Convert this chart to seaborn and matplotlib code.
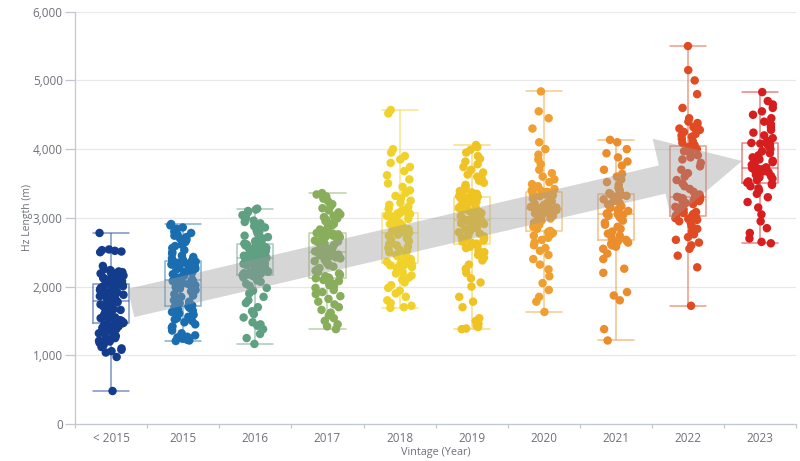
import numpy as np
import pandas as pd
import matplotlib
matplotlib.use("Agg")
import matplotlib.pyplot as plt
from matplotlib.patches import Polygon
from matplotlib.ticker import FuncFormatter, FixedLocator
import seaborn as sns

# ---- data: horizontal well length (m) by vintage ----
categories = ["< 2015", "2015", "2016", "2017", "2018", "2019", "2020", "2021", "2022", "2023"]

vals_pre2015 = [
    480, 975, 1040, 1060, 1080, 1100, 1120, 1150, 1180, 1200, 1210, 1230, 1250, 1260, 1280,
    1300, 1320, 1340, 1350, 1360, 1370, 1380, 1390, 1400, 1410, 1420, 1430, 1440, 1455, 1465,
    1475, 1490, 1500, 1510, 1525, 1540, 1550, 1560, 1575, 1590, 1600, 1610, 1620, 1635, 1650,
    1660, 1670, 1680, 1690, 1700, 1710, 1720, 1730, 1740, 1750, 1760, 1770, 1775, 1785, 1790,
    1800, 1810, 1820, 1830, 1840, 1850, 1860, 1870, 1880, 1890, 1900, 1910, 1920, 1930, 1940,
    1950, 1960, 1965, 1970, 1980, 1985, 1990, 2000, 2005, 2010, 2015, 2020, 2025, 2030, 2035,
    2040, 2045, 2050, 2060, 2070, 2080, 2090, 2100, 2110, 2120, 2130, 2140, 2150, 2160, 2170,
    2180, 2190, 2200, 2210, 2220, 2230, 2240, 2250, 2300, 2500, 2510, 2520, 2530, 2540, 2780,
]
vals_2015 = [
    1208, 1215, 1225, 1240, 1260, 1270, 1290, 1320, 1360, 1400, 1420, 1450, 1480, 1500, 1520,
    1540, 1560, 1590, 1610, 1630, 1650, 1670, 1690, 1700, 1712,
    1725, 1740, 1760, 1780, 1800, 1820, 1850, 1870, 1890, 1910, 1930, 1950, 1970, 1990, 2000,
    2010, 2020, 2035, 2045, 2055, 2065, 2075, 2080, 2088, 2094,
    2100, 2110, 2125, 2140, 2160, 2180, 2200, 2215, 2230, 2245, 2260, 2270, 2280, 2290, 2300,
    2310, 2320, 2330, 2340, 2345, 2350, 2355, 2362, 2368, 2374,
    2382, 2395, 2410, 2430, 2450, 2480, 2500, 2530, 2560, 2590, 2610, 2630, 2650, 2680, 2700,
    2720, 2740, 2760, 2780, 2800, 2820, 2840, 2860, 2890, 2910,
]
vals_2016 = [
    1165, 1250, 1310, 1380, 1430, 1450, 1480, 1550, 1600, 1640, 1700, 1760, 1800, 1850, 1900,
    1940, 1980, 2010, 2040, 2070, 2090, 2110, 2130, 2150, 2165,
    2175, 2185, 2195, 2205, 2215, 2225, 2240, 2255, 2270, 2285, 2300, 2310, 2320, 2330, 2340,
    2350, 2360, 2370, 2380, 2390, 2400, 2405, 2410, 2415, 2419,
    2425, 2432, 2440, 2448, 2455, 2462, 2470, 2478, 2486, 2495, 2505, 2515, 2525, 2535, 2545,
    2555, 2565, 2575, 2585, 2592, 2598, 2604, 2610, 2614, 2618,
    2625, 2640, 2660, 2680, 2700, 2720, 2740, 2760, 2780, 2800, 2820, 2840, 2860, 2880, 2900,
    2920, 2940, 2960, 2980, 3000, 3040, 3080, 3100, 3120, 3134,
]
vals_2017 = [
    1380, 1420, 1450, 1500, 1540, 1580, 1620, 1660, 1700, 1740, 1780, 1820, 1860, 1890, 1920,
    1950, 1980, 2000, 2020, 2040, 2060, 2080, 2095, 2110, 2120,
    2130, 2150, 2170, 2190, 2210, 2230, 2250, 2270, 2290, 2310, 2330, 2350, 2370, 2390, 2410,
    2425, 2440, 2455, 2465, 2475, 2485, 2492, 2498, 2503, 2507,
    2512, 2520, 2530, 2540, 2550, 2565, 2580, 2595, 2610, 2625, 2640, 2655, 2670, 2685, 2700,
    2710, 2720, 2730, 2740, 2750, 2760, 2768, 2774, 2779, 2783,
    2790, 2800, 2815, 2830, 2850, 2870, 2890, 2910, 2930, 2950, 2970, 2990, 3010, 3030, 3050,
    3080, 3110, 3140, 3170, 3200, 3240, 3280, 3310, 3340, 3360,
]
vals_2018 = [
    1690, 1700, 1720, 1760, 1800, 1850, 1900, 1940, 1980, 2020, 2060, 2100, 2130, 2160, 2190,
    2210, 2230, 2250, 2270, 2285, 2300, 2310, 2320, 2330, 2337,
    2345, 2360, 2380, 2400, 2420, 2440, 2460, 2480, 2500, 2520, 2540, 2560, 2580, 2600, 2620,
    2640, 2660, 2680, 2700, 2720, 2740, 2755, 2765, 2775, 2782,
    2790, 2800, 2810, 2820, 2835, 2850, 2865, 2880, 2895, 2910, 2925, 2940, 2955, 2970, 2985,
    3000, 3010, 3020, 3030, 3040, 3048, 3055, 3060, 3065, 3068,
    3075, 3090, 3110, 3130, 3160, 3190, 3220, 3250, 3280, 3320, 3360, 3400, 3450, 3500, 3560,
    3620, 3680, 3740, 3800, 3850, 3900, 3950, 4000, 4520, 4570,
]
vals_2019 = [
    1380, 1390, 1410, 1430, 1460, 1500, 1540, 1700, 1780, 1850, 2000, 2060, 2120, 2200, 2260,
    2320, 2380, 2420, 2460, 2500, 2530, 2560, 2580, 2600, 2615,
    2625, 2640, 2655, 2670, 2685, 2700, 2715, 2730, 2750, 2770, 2790, 2810, 2830, 2850, 2870,
    2885, 2900, 2910, 2920, 2930, 2940, 2950, 2958, 2963, 2968,
    2975, 2985, 2995, 3010, 3025, 3040, 3055, 3070, 3085, 3100, 3115, 3130, 3145, 3160, 3175,
    3190, 3205, 3220, 3235, 3250, 3265, 3280, 3290, 3300, 3306,
    3315, 3330, 3350, 3370, 3390, 3410, 3430, 3450, 3480, 3510, 3540, 3570, 3600, 3630, 3660,
    3700, 3740, 3780, 3820, 3860, 3900, 3950, 3990, 4030, 4060,
]
vals_2020 = [
    1630, 1780, 1850, 1950, 2050, 2150, 2250, 2320, 2400, 2460, 2520, 2560, 2600, 2640, 2680,
    2710, 2740, 2760, 2780, 2795,
    2810, 2840, 2870, 2900, 2930, 2960, 2990, 3010, 3030, 3050, 3065, 3080, 3090, 3100, 3108,
    3114, 3119, 3123, 3126, 3128,
    3133, 3140, 3150, 3160, 3175, 3190, 3205, 3220, 3240, 3260, 3280, 3300, 3315, 3330, 3340,
    3350, 3360, 3368, 3374, 3378,
    3385, 3400, 3420, 3440, 3460, 3490, 3520, 3560, 3600, 3650, 3700, 3780, 3850, 3920, 4000,
    4100, 4300, 4450, 4550, 4840,
]
vals_2021 = [
    1215, 1380, 1800, 1870, 1920, 2200, 2260, 2400, 2480, 2550, 2580, 2600, 2620, 2640, 2655, 2665,
    2680, 2710, 2740, 2770, 2800, 2840, 2870, 2900, 2930, 2960, 2990, 3010, 3030, 3045, 3052, 3058,
    3065, 3080, 3100, 3120, 3145, 3170, 3195, 3220, 3245, 3270, 3290, 3305, 3320, 3333, 3342, 3348,
    3360, 3400, 3440, 3480, 3520, 3560, 3600, 3640, 3700, 3760, 3820, 3880, 3940, 4000, 4100, 4135,
]
vals_2022 = [
    1720, 2280, 2450, 2550, 2600, 2640, 2680, 2720, 2760, 2800, 2840, 2870, 2900, 2930, 2950,
    2970, 2985, 2995, 3005, 3015,
    3025, 3040, 3055, 3070, 3085, 3100, 3120, 3140, 3160, 3180, 3200, 3215, 3230, 3245, 3260,
    3272, 3284, 3294, 3302, 3306,
    3314, 3340, 3380, 3420, 3460, 3500, 3550, 3600, 3650, 3700, 3750, 3800, 3850, 3880, 3910,
    3940, 3970, 4000, 4030, 4045,
    4060, 4090, 4120, 4150, 4180, 4200, 4220, 4250, 4280, 4300, 4320, 4350, 4380, 4400, 4450,
    4600, 4800, 5000, 5150, 5500,
]
vals_2023 = [
    2630, 2650, 2700, 2780, 2850, 2950, 3050, 3150, 3230, 3300, 3350, 3400, 3430, 3460, 3480, 3495,
    3510, 3530, 3550, 3570, 3590, 3610, 3630, 3650, 3665, 3680, 3695, 3705, 3712, 3718, 3723, 3727,
    3735, 3750, 3770, 3790, 3810, 3830, 3850, 3880, 3910, 3940, 3970, 4000, 4030, 4055, 4070, 4080,
    4090, 4120, 4160, 4200, 4240, 4280, 4320, 4360, 4400, 4450, 4500, 4550, 4600, 4650, 4700, 4830,
]

colors = ["#143c8c", "#1a6eb0", "#5fa082", "#88ae5c", "#f0d22a",
          "#f0c325", "#f0a030", "#eb8c2d", "#e14b23", "#d71e1e"]

y_ticks = [0, 1000, 2000, 3000, 4000, 5000, 6000]

series = [vals_pre2015, vals_2015, vals_2016, vals_2017, vals_2018,
          vals_2019, vals_2020, vals_2021, vals_2022, vals_2023]
df = pd.DataFrame({
    "vintage": np.concatenate([[c] * len(v) for c, v in zip(categories, series)]),
    "length": np.concatenate(series).astype(float),
})
df["vintage"] = pd.Categorical(df["vintage"], categories=categories, ordered=True)
palette = dict(zip(categories, colors))

# ---- figure ----
sns.set_theme(style="white")
plt.rcParams["font.family"] = ["Open Sans", "DejaVu Sans"]
grey_txt = "#6e717a"
axis_col = "#c3c7cf"

fig = plt.figure(figsize=(8.0, 4.61), dpi=100)
ax = fig.add_axes([0.094, 0.0803, 0.901, 0.8943])

np.random.seed(3)
sns.stripplot(data=df, x="vintage", y="length", hue="vintage", palette=palette,
              jitter=0.18, size=6.1, linewidth=0, alpha=1.0, legend=False,
              ax=ax, zorder=2)

box_width = 0.5
sns.boxplot(data=df, x="vintage", y="length", hue="vintage", palette=palette,
            fill=False, whis=(0, 100), width=box_width, linewidth=1.1,
            showfliers=False, legend=False, ax=ax)

# soften box outlines and extend caps to the box width
for ln in ax.lines:
    ln.set_alpha(0.55)
    ln.set_zorder(3)
    xd = np.asarray(ln.get_xdata(), dtype=float)
    yd = np.asarray(ln.get_ydata(), dtype=float)
    if len(xd) == 2 and yd[0] == yd[1]:
        mid = xd.mean()
        ln.set_xdata([mid - box_width / 2, mid + box_width / 2])
for p in ax.patches:
    p.set_alpha(0.55)
    p.set_zorder(3)

# translucent trend arrow (figure pixel geometry)
W, H = 800.0, 461.0
tail = np.array([131.0, 303.0])
tip = np.array([742.0, 161.0])
u = (tip - tail) / np.linalg.norm(tip - tail)
n = np.array([-u[1], u[0]])
shaft_hw, head_hw, head_len = 14.5, 42.0, 82.0
base = tip - u * head_len
pts_px = [tail - n * shaft_hw, base - n * shaft_hw, base - n * head_hw, tip,
          base + n * head_hw, base + n * shaft_hw, tail + n * shaft_hw]
pts_fig = [(p[0] / W, 1 - p[1] / H) for p in pts_px]
fig.patches.append(Polygon(pts_fig, closed=True, transform=fig.transFigure,
                           facecolor="#9a9a9a", edgecolor="none", alpha=0.4,
                           zorder=5))

# axes styling
ax.set_xlim(-0.5, len(categories) - 0.5)
ax.set_ylim(0, 6000)
ax.set_yticks(y_ticks)
ax.yaxis.set_major_formatter(FuncFormatter(lambda v, _: f"{int(v):,}"))
ax.yaxis.grid(True, color="#e8e8e8", linewidth=0.9)
ax.set_axisbelow(True)
for side in ["top", "right"]:
    ax.spines[side].set_visible(False)
for side in ["left", "bottom"]:
    ax.spines[side].set_color(axis_col)
    ax.spines[side].set_linewidth(0.9)

ax.tick_params(axis="y", which="major", length=7, width=0.9, color=axis_col,
               labelsize=8.5, labelcolor=grey_txt, pad=2, left=True)
ax.tick_params(axis="x", which="major", length=0, labelsize=8.5,
               labelcolor=grey_txt, pad=6)
ax.xaxis.set_minor_locator(FixedLocator(np.arange(-0.5, len(categories), 1.0)))
ax.tick_params(axis="x", which="minor", length=3, width=0.9, color=axis_col,
               bottom=True)

ax.set_xlabel("Vintage (Year)", fontsize=7.8, color=grey_txt, labelpad=1)
ax.set_ylabel("Hz Length (m)", fontsize=7.5, color=grey_txt)
ax.yaxis.set_label_coords(-0.058, 0.5)

fig.savefig("out.png", dpi=100)
